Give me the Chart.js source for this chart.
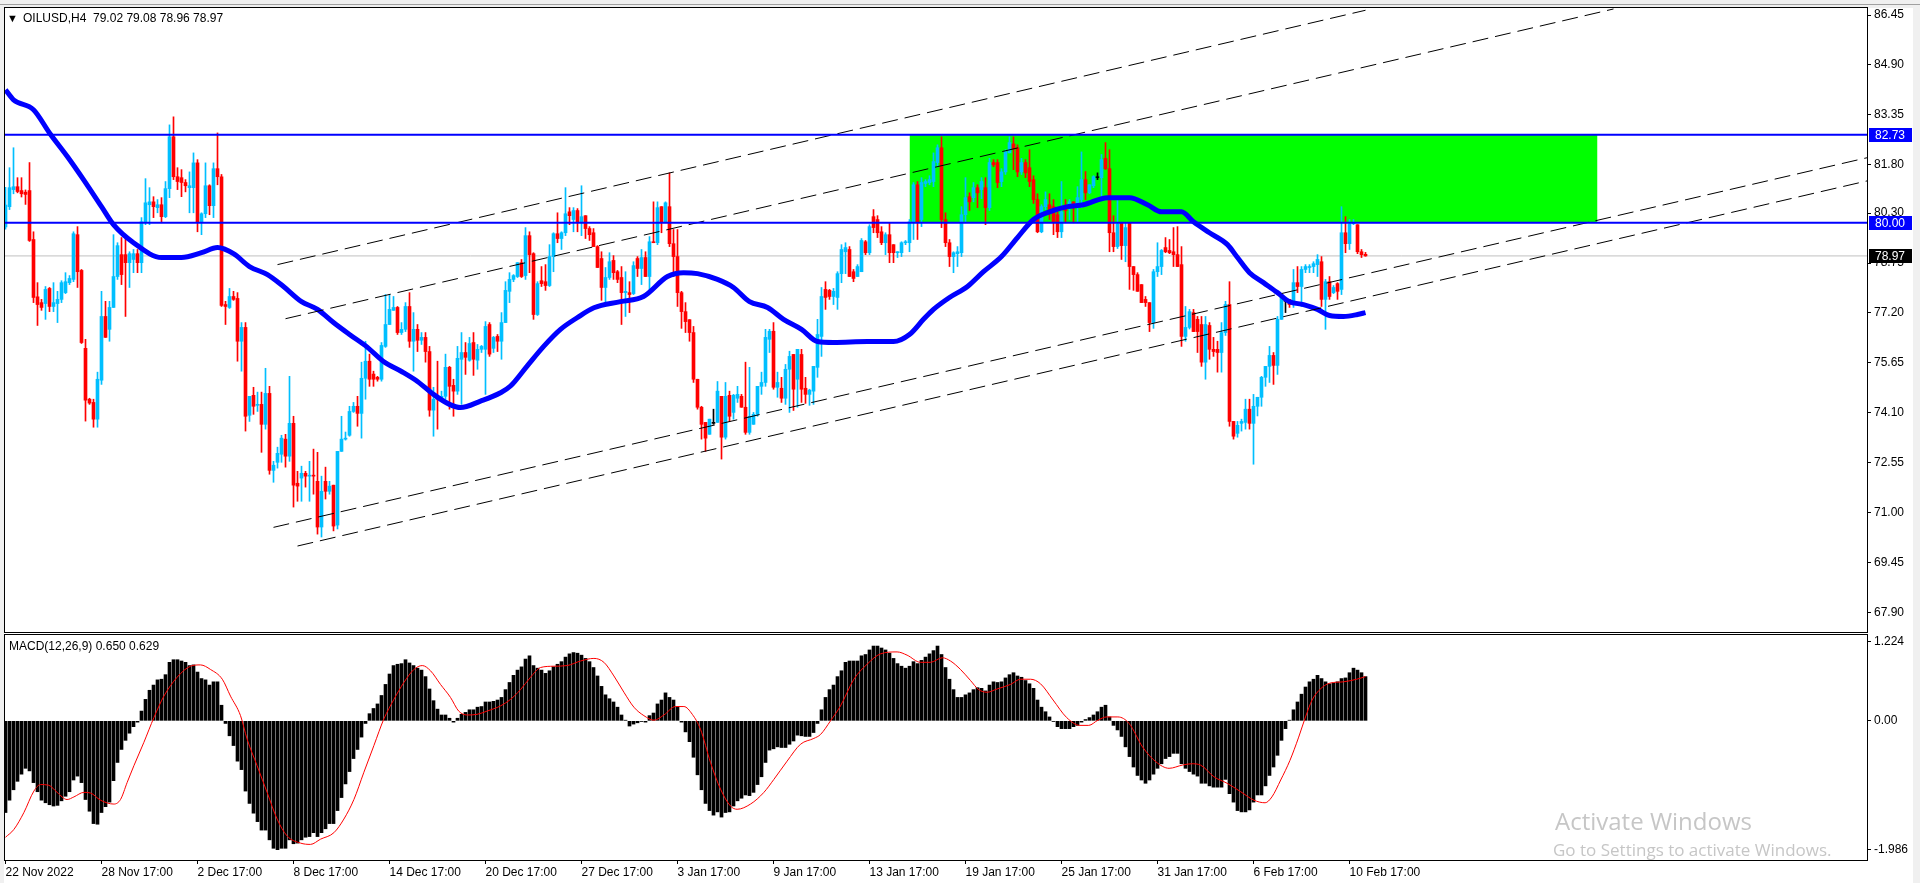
<!DOCTYPE html>
<html lang="en">
<head>
<meta charset="UTF-8">
<title>OILUSD,H4</title>
<script src="https://cdn.jsdelivr.net/npm/chart.js"></script>
<style>
  body { margin: 0; width: 1920px; height: 883px; overflow: hidden; position: relative; background: #f0f0f0; font-family: "Liberation Sans", Arial, sans-serif; }
  #win { position: absolute; left: 4px; top: 8px; width: 1909px; height: 875px; background: #fff; }
  #tabs { position: absolute; left: 0; top: 4px; width: 1920px; height: 1px; background: #a0a0a0; }
  canvas { position: absolute; left: 0; }
  .txt { position: absolute; font-size: 12px; color: #000; white-space: pre; line-height: 14px; }
  .wm { position: absolute; color: #c6c6c6; font-family: "Open Sans", "Noto Sans", sans-serif; white-space: pre; }
</style>
</head>
<body>
<div id="tabs"></div>
<div id="win"></div>
<canvas id="main" width="1920" height="634" style="top:0"></canvas>
<canvas id="macd" width="1920" height="250" style="top:633px"></canvas>
<div class="txt" style="left:7px;top:11px;font-size:11px">▼</div>
<div class="txt" style="left:23px;top:11px">OILUSD,H4  79.02 79.08 78.96 78.97</div>
<div class="txt" style="left:9px;top:639px">MACD(12,26,9) 0.650 0.629</div>
<div class="wm" style="left:1555px;top:804px;font-size:24px">Activate Windows</div>
<div class="wm" style="left:1553px;top:838px;font-size:17px">Go to Settings to activate Windows.</div>

<script>
// H4 candles, one entry per bar (bar 0 = 22 Nov 2022)
const barOpen = [
  79.87,80.50,81.03,81.12,81.00,80.95,81.00,79.48,77.70,77.52, // 0
  77.49,77.96,77.40,77.49,77.62,77.83,78.14,78.24,79.63,78.52,
  76.10,74.52,74.42,73.90,75.11,77.09,76.69,77.37,78.33,79.01,
  79.01,78.76,78.86,79.04,78.76,80.03,80.56,80.65,80.47,80.56,
  80.19,81.06,82.67,81.43,81.40,81.25,81.09,81.09,81.86,80.03,
  80.28,81.15,80.53,81.68,81.43,77.46,77.37,77.71,77.65,76.32, // 50
  76.75,74.02,74.64,74.33,74.36,73.74,74.70,72.31,72.56,72.81,
  73.28,72.75,73.77,71.91,72.07,72.22,72.13,72.16,71.97,70.55,
  71.97,71.66,71.85,70.61,72.90,73.28,73.40,74.14,74.30,74.08,
  75.17,75.70,75.30,75.20,75.14,76.16,76.84,77.28,77.37,76.59,
  76.69,77.40,76.32,76.69,76.35,76.44,76.00,74.18,74.58,74.52, // 100
  74.61,75.51,74.95,74.77,75.76,75.97,75.73,76.28,75.73,76.07,
  76.07,76.84,76.10,76.47,76.32,76.90,77.87,78.24,78.33,78.76,
  78.36,79.60,79.04,77.15,78.20,78.17,78.05,78.95,79.66,79.51,
  79.69,80.34,80.10,80.38,80.00,80.22,79.82,79.69,79.26,78.89,
  77.99,78.30,78.83,78.48,78.30,77.83,77.83,77.80,78.89,78.58, // 150
  78.92,78.33,79.41,79.38,80.50,80.03,80.50,79.35,78.95,77.83,
  77.24,76.99,76.59,75.14,74.27,73.80,73.43,73.77,73.80,74.61,
  73.34,74.64,74.11,74.55,74.61,74.27,73.49,73.74,74.05,74.92,
  75.04,76.38,76.63,74.89,74.86,74.55,75.45,75.91,75.14,75.91,
  74.86,74.67,74.77,75.51,76.47,77.93,77.90,77.71,77.68,78.42, // 200
  79.10,79.17,78.48,78.33,78.48,79.41,79.07,80.19,80.10,79.72,
  79.38,79.63,79.32,79.07,79.07,79.38,79.38,80.03,81.18,80.10,
  81.22,81.25,81.28,81.87,82.33,80.10,79.38,78.95,79.04,79.07,
  80.25,80.81,80.78,81.09,81.03,81.09,80.47,81.87,81.87,81.28,
  81.58,82.17,82.45,82.33,81.58,81.87,81.71,81.34,80.72,79.72, // 250
  80.50,80.56,80.50,80.25,79.72,80.53,80.53,80.65,80.56,80.72,
  81.34,80.93,81.15,81.40,81.40,82.00,81.68,79.69,79.26,80.00,
  79.29,80.00,78.64,78.39,78.08,77.62,77.52,76.90,78.48,78.64,
  79.23,79.14,79.10,79.01,78.70,76.47,76.75,77.21,77.00,76.84,
  75.67,76.81,76.07,76.07,75.97,76.59,77.46,73.83,73.46,73.77, // 300
  73.80,74.21,73.77,74.30,74.58,75.20,75.54,75.88,75.57,77.00,
  77.56,77.62,77.52,78.14,78.02,78.55,78.61,78.64,78.70,78.79,
  77.62,78.17,77.83,78.11,77.93,79.69,79.35,79.97,79.94,79.10,
  79.02
];
const barHigh = [
  81.10,81.71,82.33,81.40,81.40,81.02,81.87,79.72,78.14,77.62, // 0
  78.02,77.99,78.14,77.87,78.20,78.45,78.36,79.72,79.88,78.55,
  76.38,74.55,74.52,75.36,77.87,77.56,77.56,79.63,79.38,79.54,
  79.54,79.10,79.17,79.17,80.16,81.37,81.09,80.81,80.72,80.78,
  81.28,83.04,83.29,81.71,81.65,81.34,81.58,82.17,81.96,80.31,
  81.86,81.18,81.86,82.79,81.50,77.56,77.96,77.87,77.83,76.90, // 50
  76.90,74.61,74.89,74.74,74.74,75.48,74.92,72.59,73.03,73.40,
  73.43,75.23,73.99,72.28,72.44,72.28,72.59,72.97,72.87,72.13,
  72.41,71.97,71.85,72.90,73.99,73.50,74.30,74.42,74.61,75.67,
  76.32,75.92,75.39,75.23,76.28,77.77,77.77,77.71,77.40,76.90,
  77.52,77.83,77.21,76.84,76.59,76.59,76.16,74.89,75.70,74.77, // 100
  75.92,75.54,75.14,76.16,76.59,76.28,76.44,76.59,76.22,76.19,
  76.93,76.90,76.47,76.53,77.21,78.17,78.45,78.39,78.76,78.86,
  79.85,79.72,79.07,78.17,78.64,78.70,79.32,79.69,80.31,79.72,
  81.09,80.47,80.47,80.44,81.15,80.22,79.88,79.82,79.29,79.10,
  78.61,79.07,78.98,78.52,78.64,78.48,78.17,78.79,78.95,79.17, // 150
  79.10,79.57,80.65,80.65,80.50,80.65,81.55,79.79,79.79,77.87,
  77.52,76.99,76.78,75.14,74.30,73.80,73.90,74.21,75.07,74.61,
  75.04,74.77,74.67,74.92,74.67,75.67,75.51,74.11,74.92,75.36,
  76.69,76.69,76.90,75.36,75.20,75.60,76.01,75.91,76.07,76.07,
  75.20,74.83,75.54,77.00,77.99,78.17,77.93,77.96,78.48,79.32, // 200
  79.38,79.26,78.55,78.70,79.51,79.45,79.94,80.41,80.22,79.88,
  79.69,80.00,79.32,79.10,79.41,79.45,80.10,81.25,81.28,81.40,
  81.34,81.46,82.17,82.42,82.67,80.31,79.48,79.10,79.26,80.50,
  81.40,80.93,81.25,81.18,81.40,81.40,82.00,81.96,81.96,81.68,
  82.27,82.67,82.67,82.42,82.00,81.96,82.27,81.46,80.90,80.56, // 250
  80.96,80.90,80.72,80.34,81.28,80.72,80.72,80.65,81.12,82.20,
  81.59,81.18,81.46,81.55,82.12,82.49,82.27,80.22,80.72,80.00,
  80.00,80.00,78.64,78.45,78.08,77.71,77.52,78.55,79.38,79.17,
  79.54,79.48,79.85,79.88,79.26,77.40,77.31,77.31,77.09,77.09,
  77.09,76.90,76.44,76.32,76.90,77.56,78.17,73.83,73.83,73.90, // 300
  74.52,74.52,74.67,74.58,75.23,75.54,76.16,75.97,77.09,77.71,
  77.62,77.62,78.55,78.64,78.64,78.70,78.70,78.79,79.01,78.95,
  78.24,78.33,78.05,78.14,80.50,80.19,80.10,80.10,79.94,79.17,
  79.08
];
const barLow = [
  79.80,80.41,80.90,80.93,80.80,80.57,79.42,77.52,76.81,77.28, // 0
  77.00,77.24,77.24,76.90,77.52,77.80,78.08,78.17,77.99,76.25,
  73.84,74.36,73.65,73.65,74.98,76.44,76.32,77.37,78.24,78.08,
  77.09,77.99,78.45,78.45,78.45,79.94,79.94,80.16,80.31,80.00,
  80.16,80.78,81.34,81.03,80.81,80.96,80.31,80.31,79.72,79.63,
  80.16,80.25,80.16,81.18,77.40,76.84,77.34,77.59,75.70,75.39, // 50
  73.53,73.83,74.05,74.14,72.87,73.59,72.19,71.94,72.38,72.56,
  72.41,72.59,71.17,71.35,71.35,71.79,71.35,71.57,70.33,70.24,
  71.42,71.57,70.43,70.49,72.90,73.25,73.37,74.11,73.68,73.31,
  74.52,74.92,74.92,75.08,75.08,76.13,76.84,77.28,76.53,76.53,
  76.62,76.13,75.39,76.00,76.22,75.67,73.99,73.37,73.59,74.49, // 100
  74.52,74.21,73.99,74.67,74.36,75.29,75.70,75.26,75.45,75.97,
  74.67,75.85,75.97,76.00,75.76,76.90,77.52,78.17,78.30,78.30,
  78.24,78.45,77.00,77.12,78.02,77.90,78.02,78.48,79.38,79.17,
  79.60,79.94,79.72,79.72,79.60,79.51,79.45,79.26,78.61,77.59,
  77.43,78.24,78.24,78.14,76.84,77.09,77.21,77.77,78.33,78.08, // 150
  78.33,77.83,79.38,79.32,79.69,80.00,79.26,78.33,77.40,76.72,
  76.59,76.32,75.04,74.21,73.28,72.90,73.43,73.74,73.80,72.66,
  73.28,73.83,73.90,74.42,74.27,73.43,73.43,73.74,73.99,74.67,
  74.92,75.97,74.83,74.58,74.42,74.36,74.11,74.17,74.27,74.42,
  74.39,74.33,74.36,75.20,75.85,77.31,77.62,77.46,77.31,78.14, // 200
  78.42,78.33,78.17,78.33,78.48,79.01,79.01,79.69,79.54,79.32,
  79.01,78.76,78.76,78.92,78.95,79.32,79.10,79.48,79.48,79.88,
  81.12,81.18,81.12,81.74,79.85,79.26,78.64,78.45,78.64,78.95,
  80.00,80.38,80.65,80.47,80.75,79.94,80.38,81.74,81.09,81.12,
  81.50,82.17,81.65,81.43,81.50,81.40,81.12,80.60,79.69,79.69, // 250
  80.41,80.10,79.63,79.54,79.54,80.00,80.10,80.00,80.00,80.47,
  80.72,80.90,81.09,81.34,80.78,81.65,79.10,79.10,79.20,78.86,
  78.79,77.93,77.90,77.87,77.52,77.40,76.62,76.72,78.33,78.39,
  79.07,79.04,78.64,78.64,76.16,76.32,76.70,76.62,75.97,75.54,
  75.14,75.76,75.85,75.36,75.36,76.50,73.68,73.28,73.34,73.53, // 300
  73.59,73.59,72.50,74.00,74.30,74.92,75.04,74.98,75.29,77.00,
  77.21,77.37,77.37,77.83,77.40,78.45,78.45,78.45,78.33,77.40,
  76.69,77.62,77.80,77.62,77.77,79.07,79.17,79.94,79.04,78.92,
  78.96
];
const barClose = [
  80.55,81.09,81.12,80.97,80.90,80.88,79.45,77.68,77.46,77.37, // 0
  77.93,77.40,77.52,77.62,78.14,78.17,78.27,79.66,78.48,76.28,
  74.49,74.40,73.90,75.14,77.09,76.44,77.37,78.33,79.29,78.39,
  78.76,79.04,79.04,78.76,80.03,80.62,80.65,80.50,80.56,80.19,
  81.06,82.67,81.43,81.28,81.25,81.15,81.15,81.86,80.03,80.28,
  81.15,80.53,81.68,81.43,77.43,77.40,77.71,77.62,76.32,76.75, // 50
  73.99,74.61,74.30,74.36,73.74,74.70,72.31,72.47,72.84,73.31,
  72.75,73.77,71.85,71.82,72.22,72.13,72.16,72.13,70.55,71.66,
  71.66,71.82,70.58,72.90,73.28,73.31,74.14,74.30,74.08,75.17,
  75.70,75.14,75.14,75.14,76.19,76.84,77.31,77.37,76.59,76.69,
  77.40,76.32,76.69,76.35,76.44,76.00,74.18,74.52,74.52,74.61, // 100
  75.51,74.92,74.77,75.79,75.97,75.82,76.25,75.76,76.07,76.16,
  76.78,75.92,76.44,76.32,76.90,77.90,78.24,78.36,78.76,78.33,
  79.60,79.01,77.15,78.11,78.11,78.05,78.95,79.66,79.51,79.69,
  80.28,80.22,80.38,80.00,80.19,79.82,79.63,79.26,78.61,77.99,
  78.30,78.79,78.45,78.24,77.83,77.87,77.77,78.67,78.58,78.92, // 150
  78.33,79.41,79.38,80.47,80.03,80.62,79.35,78.95,77.83,77.24,
  76.93,76.59,75.14,74.27,73.74,73.31,73.90,73.77,74.77,73.34,
  74.61,73.99,74.64,74.67,74.27,73.49,73.99,74.05,74.92,75.04,
  76.44,76.63,74.89,75.04,74.55,75.45,75.85,74.83,76.07,74.83,
  74.67,74.80,75.54,76.53,77.71,77.68,77.71,77.87,78.42,79.17, // 200
  79.23,78.33,78.27,78.64,79.45,79.07,79.88,79.85,79.69,79.38,
  79.63,79.07,79.07,79.10,79.38,79.41,80.03,81.18,80.03,81.25,
  81.28,81.34,81.90,82.33,80.10,79.38,78.95,79.07,79.10,80.25,
  80.78,80.65,81.09,80.93,81.28,80.47,81.87,81.80,81.25,81.58,
  82.20,82.49,82.30,81.58,81.87,81.55,81.28,80.72,79.72,80.50, // 250
  80.72,80.34,80.03,79.72,80.34,80.38,80.65,80.56,80.78,81.34,
  80.93,81.18,81.43,81.40,81.96,81.68,79.69,79.26,79.97,79.29,
  79.85,78.64,78.39,77.87,77.52,77.52,76.90,78.48,78.64,79.14,
  79.10,79.07,79.01,78.64,76.47,76.75,77.24,76.62,76.62,75.67,
  76.84,76.07,76.00,75.97,76.59,77.46,73.83,73.37,73.71,73.83, // 300
  74.21,73.77,74.30,74.58,75.20,75.54,75.88,75.57,77.00,77.68,
  77.56,77.46,78.14,78.02,78.55,78.64,78.64,78.73,78.86,77.62,
  78.17,77.71,77.99,77.87,79.69,79.35,79.97,80.00,79.10,79.01,
  78.97
];

// moving average, read at points along the thick blue line
const maIdx = [0,2,7,11,15.5,19.5,24,27,32,39,44,49,53,57,61,65.5,69.5,74,78,82,
  86,90.5,94.5,99,103,107,111,113.75,118.75,123.75,126.25,130.4,134.6,138.75,142.9,147.1,153.75,159.5,165.5,169.5,
  173,178,182,186,190.5,194.5,199,203,207,215.5,222,226,229.5,232,236,240.5,244.5,249,253,257,
  261,265.5,269.5,275.5,281,285.5,289,294,297,301,305.5,308,311,314.5,318,321,324.5,328,331,334.5,338,340];
const maVal = [84.13,83.82,83.51,82.79,82.05,81.34,80.50,79.94,79.38,78.92,78.92,79.07,79.23,79.04,78.64,78.39,78.02,77.55,77.31,76.90,
  76.53,76.13,75.69,75.38,75.07,74.67,74.36,74.26,74.46,74.72,74.93,75.55,76.17,76.69,77.05,77.36,77.55,77.71,78.33,78.45,
  78.42,78.24,77.99,77.55,77.37,77.00,76.69,76.31,76.28,76.31,76.31,76.53,77.00,77.31,77.68,78.02,78.48,78.95,79.54,80.10,
  80.34,80.50,80.56,80.78,80.78,80.56,80.34,80.34,80.03,79.69,79.32,78.92,78.45,78.14,77.83,77.55,77.46,77.31,77.12,77.09,77.15,77.21];

// MACD histogram, one value per bar
const macdHist = [
  -1.41,-1.22,-1.06,-0.93,-0.82,-0.73,-0.77,-0.95,-1.09,-1.22, // 0
  -1.26,-1.29,-1.31,-1.30,-1.23,-1.16,-1.09,-0.91,-0.85,-0.95,
  -1.21,-1.39,-1.58,-1.59,-1.41,-1.32,-1.25,-0.92,-0.64,-0.44,
  -0.30,-0.19,-0.09,-0.02,0.15,0.33,0.47,0.55,0.63,0.64,
  0.71,0.90,0.94,0.94,0.92,0.90,0.85,0.86,0.75,0.65,
  0.63,0.55,0.60,0.60,0.24,-0.04,-0.23,-0.38,-0.62,-0.75, // 50
  -1.08,-1.27,-1.42,-1.55,-1.68,-1.68,-1.83,-1.96,-1.98,-1.96,
  -1.96,-1.83,-1.89,-1.88,-1.83,-1.79,-1.78,-1.72,-1.78,-1.72,
  -1.66,-1.58,-1.58,-1.38,-1.18,-0.97,-0.78,-0.58,-0.44,-0.25,
  -0.04,0.11,0.19,0.26,0.39,0.56,0.72,0.85,0.87,0.88,
  0.94,0.89,0.85,0.81,0.78,0.68,0.49,0.31,0.18,0.09, // 100
  0.09,0.04,-0.02,0.04,0.10,0.13,0.17,0.17,0.21,0.22,
  0.29,0.29,0.30,0.32,0.36,0.48,0.59,0.70,0.78,0.83,
  0.95,1.00,0.85,0.81,0.78,0.73,0.77,0.83,0.87,0.91,
  0.98,1.03,1.05,1.04,1.01,0.96,0.91,0.82,0.69,0.53,
  0.40,0.34,0.29,0.21,0.09,0.01,-0.08,-0.05,-0.03,-0.01, // 150
  -0.02,0.08,0.12,0.26,0.32,0.43,0.36,0.32,0.22,-0.02,
  -0.17,-0.32,-0.56,-0.83,-1.06,-1.27,-1.38,-1.45,-1.40,-1.48,
  -1.41,-1.40,-1.31,-1.23,-1.19,-1.14,-1.15,-1.10,-0.98,-0.86,
  -0.64,-0.45,-0.43,-0.40,-0.41,-0.41,-0.36,-0.31,-0.22,-0.23,
  -0.24,-0.24,-0.18,-0.04,0.17,0.36,0.48,0.55,0.68,0.77, // 200
  0.90,0.92,0.92,0.92,1.00,1.02,1.09,1.15,1.15,1.12,
  1.09,1.04,0.96,0.88,0.84,0.81,0.84,0.91,0.88,0.93,
  0.98,1.03,1.08,1.15,1.02,0.82,0.64,0.48,0.36,0.36,
  0.40,0.43,0.48,0.51,0.50,0.46,0.55,0.60,0.59,0.60,
  0.66,0.71,0.74,0.69,0.67,0.62,0.57,0.50,0.32,0.21, // 250
  0.14,0.06,-0.01,-0.09,-0.12,-0.12,-0.12,-0.09,-0.07,-0.02,
  0.02,0.05,0.09,0.14,0.21,0.24,0.06,-0.07,-0.14,-0.24,
  -0.40,-0.55,-0.71,-0.84,-0.91,-0.96,-0.91,-0.82,-0.73,-0.66,
  -0.58,-0.55,-0.50,-0.50,-0.66,-0.73,-0.78,-0.82,-0.85,-0.96,
  -0.96,-1.00,-1.02,-1.02,-1.02,-0.90,-1.12,-1.25,-1.38,-1.40, // 300
  -1.40,-1.37,-1.25,-1.14,-1.14,-1.00,-0.84,-0.71,-0.53,-0.30,
  -0.12,0.01,0.17,0.29,0.41,0.52,0.60,0.64,0.70,0.65,
  0.60,0.57,0.58,0.60,0.65,0.66,0.74,0.81,0.78,0.74,
  0.68
];

// MACD signal line, read at points along the red curve
const sigIdx = [0,2.1,4.6,7.1,8.75,10.8,12.9,15.4,17.1,19.6,21.25,23.75,27.1,28.75,30.4,32.1,34.6,37.1,39.6,42.9,
  46.25,48.75,51.25,54.2,56.25,58.75,60.4,62.9,65.4,67.9,70.4,73.75,76.25,78.75,82.1,84.6,87.1,89.6,92.1,94.6,
  97.1,99.6,102.1,104.2,106.25,108.75,111.25,113.3,115.4,117.9,120.4,123.75,126.25,128.75,131.25,133.75,137.1,140.4,143.75,147.1,
  149.6,152.1,154.6,157.1,159.6,162.1,164.6,167.5,169.6,171.7,173.75,176.25,178.75,181.25,182.9,186.25,189.6,192.1,195.4,198.75,
  202.1,203.75,206.25,208.75,212.1,215.4,218.75,222.9,225.4,228.75,231.25,234.2,236.25,238.75,241.25,243.3,245.4,247.9,251.25,253.75,
  256.25,258.75,261.9,265.3,268.6,270.8,273.1,275.3,278.1,280.9,284.25,287.6,290.9,294.25,296.5,298.75,302.1,305.4,308.8,312.1,
  314.9,316.6,318.8,321.1,323.3,325,326.65,328.9,331.1,334.5,337.8,340];
const sigVal = [-1.79,-1.67,-1.41,-1.08,-0.98,-0.99,-1.10,-1.21,-1.17,-1.10,-1.11,-1.22,-1.28,-1.21,-0.95,-0.69,-0.33,0.05,0.38,0.67,
  0.84,0.86,0.79,0.64,0.38,0.08,-0.28,-0.69,-1.10,-1.51,-1.77,-1.88,-1.90,-1.82,-1.72,-1.51,-1.21,-0.79,-0.38,0.03,
  0.33,0.59,0.79,0.85,0.77,0.56,0.36,0.15,0.09,0.10,0.15,0.23,0.33,0.48,0.67,0.82,0.84,0.85,0.92,0.96,
  0.90,0.69,0.44,0.21,0.08,0.01,0.09,0.22,0.22,0.10,-0.13,-0.64,-1.05,-1.31,-1.36,-1.28,-1.10,-0.90,-0.62,-0.36,
  -0.27,-0.21,0.00,0.23,0.64,0.87,1.03,1.06,1.01,0.90,0.90,0.97,0.92,0.79,0.62,0.48,0.44,0.49,0.56,0.64,
  0.64,0.57,0.32,0.05,-0.07,-0.07,0.01,0.06,0.06,-0.04,-0.40,-0.63,-0.73,-0.68,-0.66,-0.68,-0.86,-0.96,-1.09,-1.22,
  -1.26,-1.17,-0.91,-0.61,-0.25,0.06,0.32,0.50,0.58,0.60,0.64,0.68];

// horizontal levels, bid line, zone box and trend channel lines
const hLevels = [82.73, 80.00];
const bidPrice = 78.97;
const boxIdx = [226, 398];
const boxPrice = [80.00, 82.73];
const chanIdx0 = [68, 70, 67, 73];
const chanPrice0 = [78.70, 77.02, 70.54, 69.96];
const chanIdx1 = [340, 402, 465.4, 465.4];
const chanPrice1 = [86.60, 86.64, 82.02, 81.30];

// axis ticks
const priceTicks = [67.90, 69.45, 71.00, 72.55, 74.10, 75.65, 77.20, 78.75, 80.30, 81.80, 83.35, 84.90, 86.45];
const macdTicks = [-1.986, 0, 1.224];
const macdTickText = ['-1.986', '0.00', '1.224'];
const dateTickIdx = [0, 24, 48, 72, 96, 120, 144, 168, 192, 216, 240, 264, 288, 312, 336];
const dateLabels = ['22 Nov 2022', '28 Nov 17:00', '2 Dec 17:00', '8 Dec 17:00', '14 Dec 17:00', '20 Dec 17:00',
  '27 Dec 17:00', '3 Jan 17:00', '9 Jan 17:00', '13 Jan 17:00', '19 Jan 17:00', '25 Jan 17:00',
  '31 Jan 17:00', '6 Feb 17:00', '10 Feb 17:00'];

const X_MIN = -0.125, X_MAX = 465.375;
const FONT = { family: '"Liberation Sans", Arial, sans-serif', size: 12 };
Chart.defaults.font.family = FONT.family;

const candleColor = barClose.map((c, i) => c > barOpen[i] ? '#00BFFF' : (c < barOpen[i] ? '#FF0000' : '#000000'));
const wicks = barHigh.map((h, i) => ({ x: i, y: [barLow[i], h] }));
const bodies = barOpen.map((o, i) => ({ x: i, y: [o, barClose[i]] }));
const maPts = maIdx.map((x, k) => ({ x: x, y: maVal[k] }));

const frame = {
  id: 'frame',
  afterDraw(chart) {
    const a = chart.chartArea, ctx = chart.ctx;
    ctx.save();
    ctx.strokeStyle = '#000';
    ctx.lineWidth = 1;
    ctx.strokeRect(a.left - 0.5, a.top - 0.5, a.right - a.left + 1, a.bottom - a.top + 1);
    ctx.restore();
  }
};

const priceTags = {
  id: 'priceTags',
  afterDraw(chart) {
    const ctx = chart.ctx, ys = chart.scales.y;
    const tags = [[hLevels[0], '#0000FF'], [hLevels[1], '#0000FF'], [bidPrice, '#000000']];
    ctx.save();
    ctx.font = '12px ' + FONT.family;
    ctx.textBaseline = 'middle';
    tags.forEach(([v, bg]) => {
      const y = Math.round(ys.getPixelForValue(v));
      ctx.fillStyle = bg;
      ctx.fillRect(1869, y - 7, 43, 14);
      ctx.fillStyle = '#fff';
      ctx.fillText(v.toFixed(2), 1875, y + 1);
    });
    ctx.restore();
  }
};

function flatLine(y, x0, x1, color, width, order) {
  return { type: 'line', data: [{ x: x0, y: y }, { x: x1, y: y }], borderColor: color, borderWidth: width,
    pointRadius: 0, fill: false, order: order };
}

const chanSets = chanIdx0.map((x0, k) => ({
  type: 'line',
  data: [{ x: x0, y: chanPrice0[k] }, { x: chanIdx1[k], y: chanPrice1[k] }],
  borderColor: '#000', borderWidth: 1, borderDash: [16, 7], pointRadius: 0, fill: false, order: 5
}));

new Chart(document.getElementById('main'), {
  type: 'bar',
  data: {
    datasets: [
      { type: 'line', data: [{ x: boxIdx[0], y: boxPrice[1] }, { x: boxIdx[1], y: boxPrice[1] }],
        fill: { value: boxPrice[0] }, backgroundColor: '#00FF00', borderWidth: 0, pointRadius: 0, order: 10 },
      flatLine(bidPrice, X_MIN, X_MAX, '#C0C0C0', 1, 9),
      { type: 'bar', data: wicks, backgroundColor: candleColor, barThickness: 1, grouped: false, order: 8 },
      { type: 'bar', data: bodies, backgroundColor: candleColor, barThickness: 3, grouped: false, minBarLength: 1, order: 7 },
      { type: 'line', data: maPts, borderColor: '#0000FF', borderWidth: 5, pointRadius: 0,
        cubicInterpolationMode: 'monotone', fill: false, order: 6 },
      ...chanSets,
      flatLine(hLevels[0], X_MIN, X_MAX, '#0000FF', 2, 4),
      flatLine(hLevels[1], X_MIN, X_MAX, '#0000FF', 2, 4)
    ]
  },
  options: {
    responsive: false, animation: false, devicePixelRatio: 1,
    layout: { padding: { left: 5, top: 8, right: 0, bottom: 2 } },
    plugins: { legend: { display: false }, tooltip: { enabled: false } },
    scales: {
      x: { type: 'linear', min: X_MIN, max: X_MAX, offset: false, display: false, grid: { offset: false } },
      y: {
        position: 'right', min: 67.29, max: 86.67,
        afterBuildTicks: s => { s.ticks = priceTicks.map(v => ({ value: v })); },
        afterFit: s => { s.width = 53; s.paddingTop = 0; s.paddingBottom = 0; },
        ticks: { callback: v => v.toFixed(2), padding: 3, color: '#000', font: FONT },
        grid: { drawOnChartArea: false, drawTicks: true, tickLength: 4, color: '#000' },
        border: { display: true, color: '#000' }
      }
    }
  },
  plugins: [frame, priceTags]
});

new Chart(document.getElementById('macd'), {
  type: 'bar',
  data: {
    datasets: [
      { type: 'line', data: sigIdx.map((x, k) => ({ x: x, y: sigVal[k] })), borderColor: '#FF0000', borderWidth: 1,
        pointRadius: 0, cubicInterpolationMode: 'monotone', fill: false, order: 1 },
      { type: 'bar', data: macdHist.map((v, i) => ({ x: i, y: v })), backgroundColor: '#000000',
        barThickness: 3, grouped: false, order: 2 }
    ]
  },
  options: {
    responsive: false, animation: false, devicePixelRatio: 1,
    layout: { padding: { left: 5, top: 2, right: 0, bottom: 0 } },
    plugins: { legend: { display: false }, tooltip: { enabled: false } },
    scales: {
      x: {
        type: 'linear', min: X_MIN, max: X_MAX, offset: false,
        afterBuildTicks: s => { s.ticks = dateTickIdx.map(v => ({ value: v })); },
        afterFit: s => { s.height = 23; s.paddingLeft = 0; s.paddingRight = 0; },
        ticks: { autoSkip: false, maxRotation: 0, align: 'start', padding: 1, color: '#000', font: FONT,
          callback: (v, k) => dateLabels[k] },
        grid: { drawOnChartArea: false, drawTicks: true, tickLength: 4, color: '#000', offset: false },
        border: { display: true, color: '#000' }
      },
      y: {
        position: 'right', min: -2.14, max: 1.32,
        afterBuildTicks: s => { s.ticks = macdTicks.map(v => ({ value: v })); },
        afterFit: s => { s.width = 53; s.paddingTop = 0; s.paddingBottom = 0; },
        ticks: { callback: (v, k) => macdTickText[k], padding: 3, color: '#000', font: FONT },
        grid: { drawOnChartArea: false, drawTicks: true, tickLength: 4, color: '#000' },
        border: { display: true, color: '#000' }
      }
    }
  },
  plugins: [frame]
});
</script>
</body>
</html>
